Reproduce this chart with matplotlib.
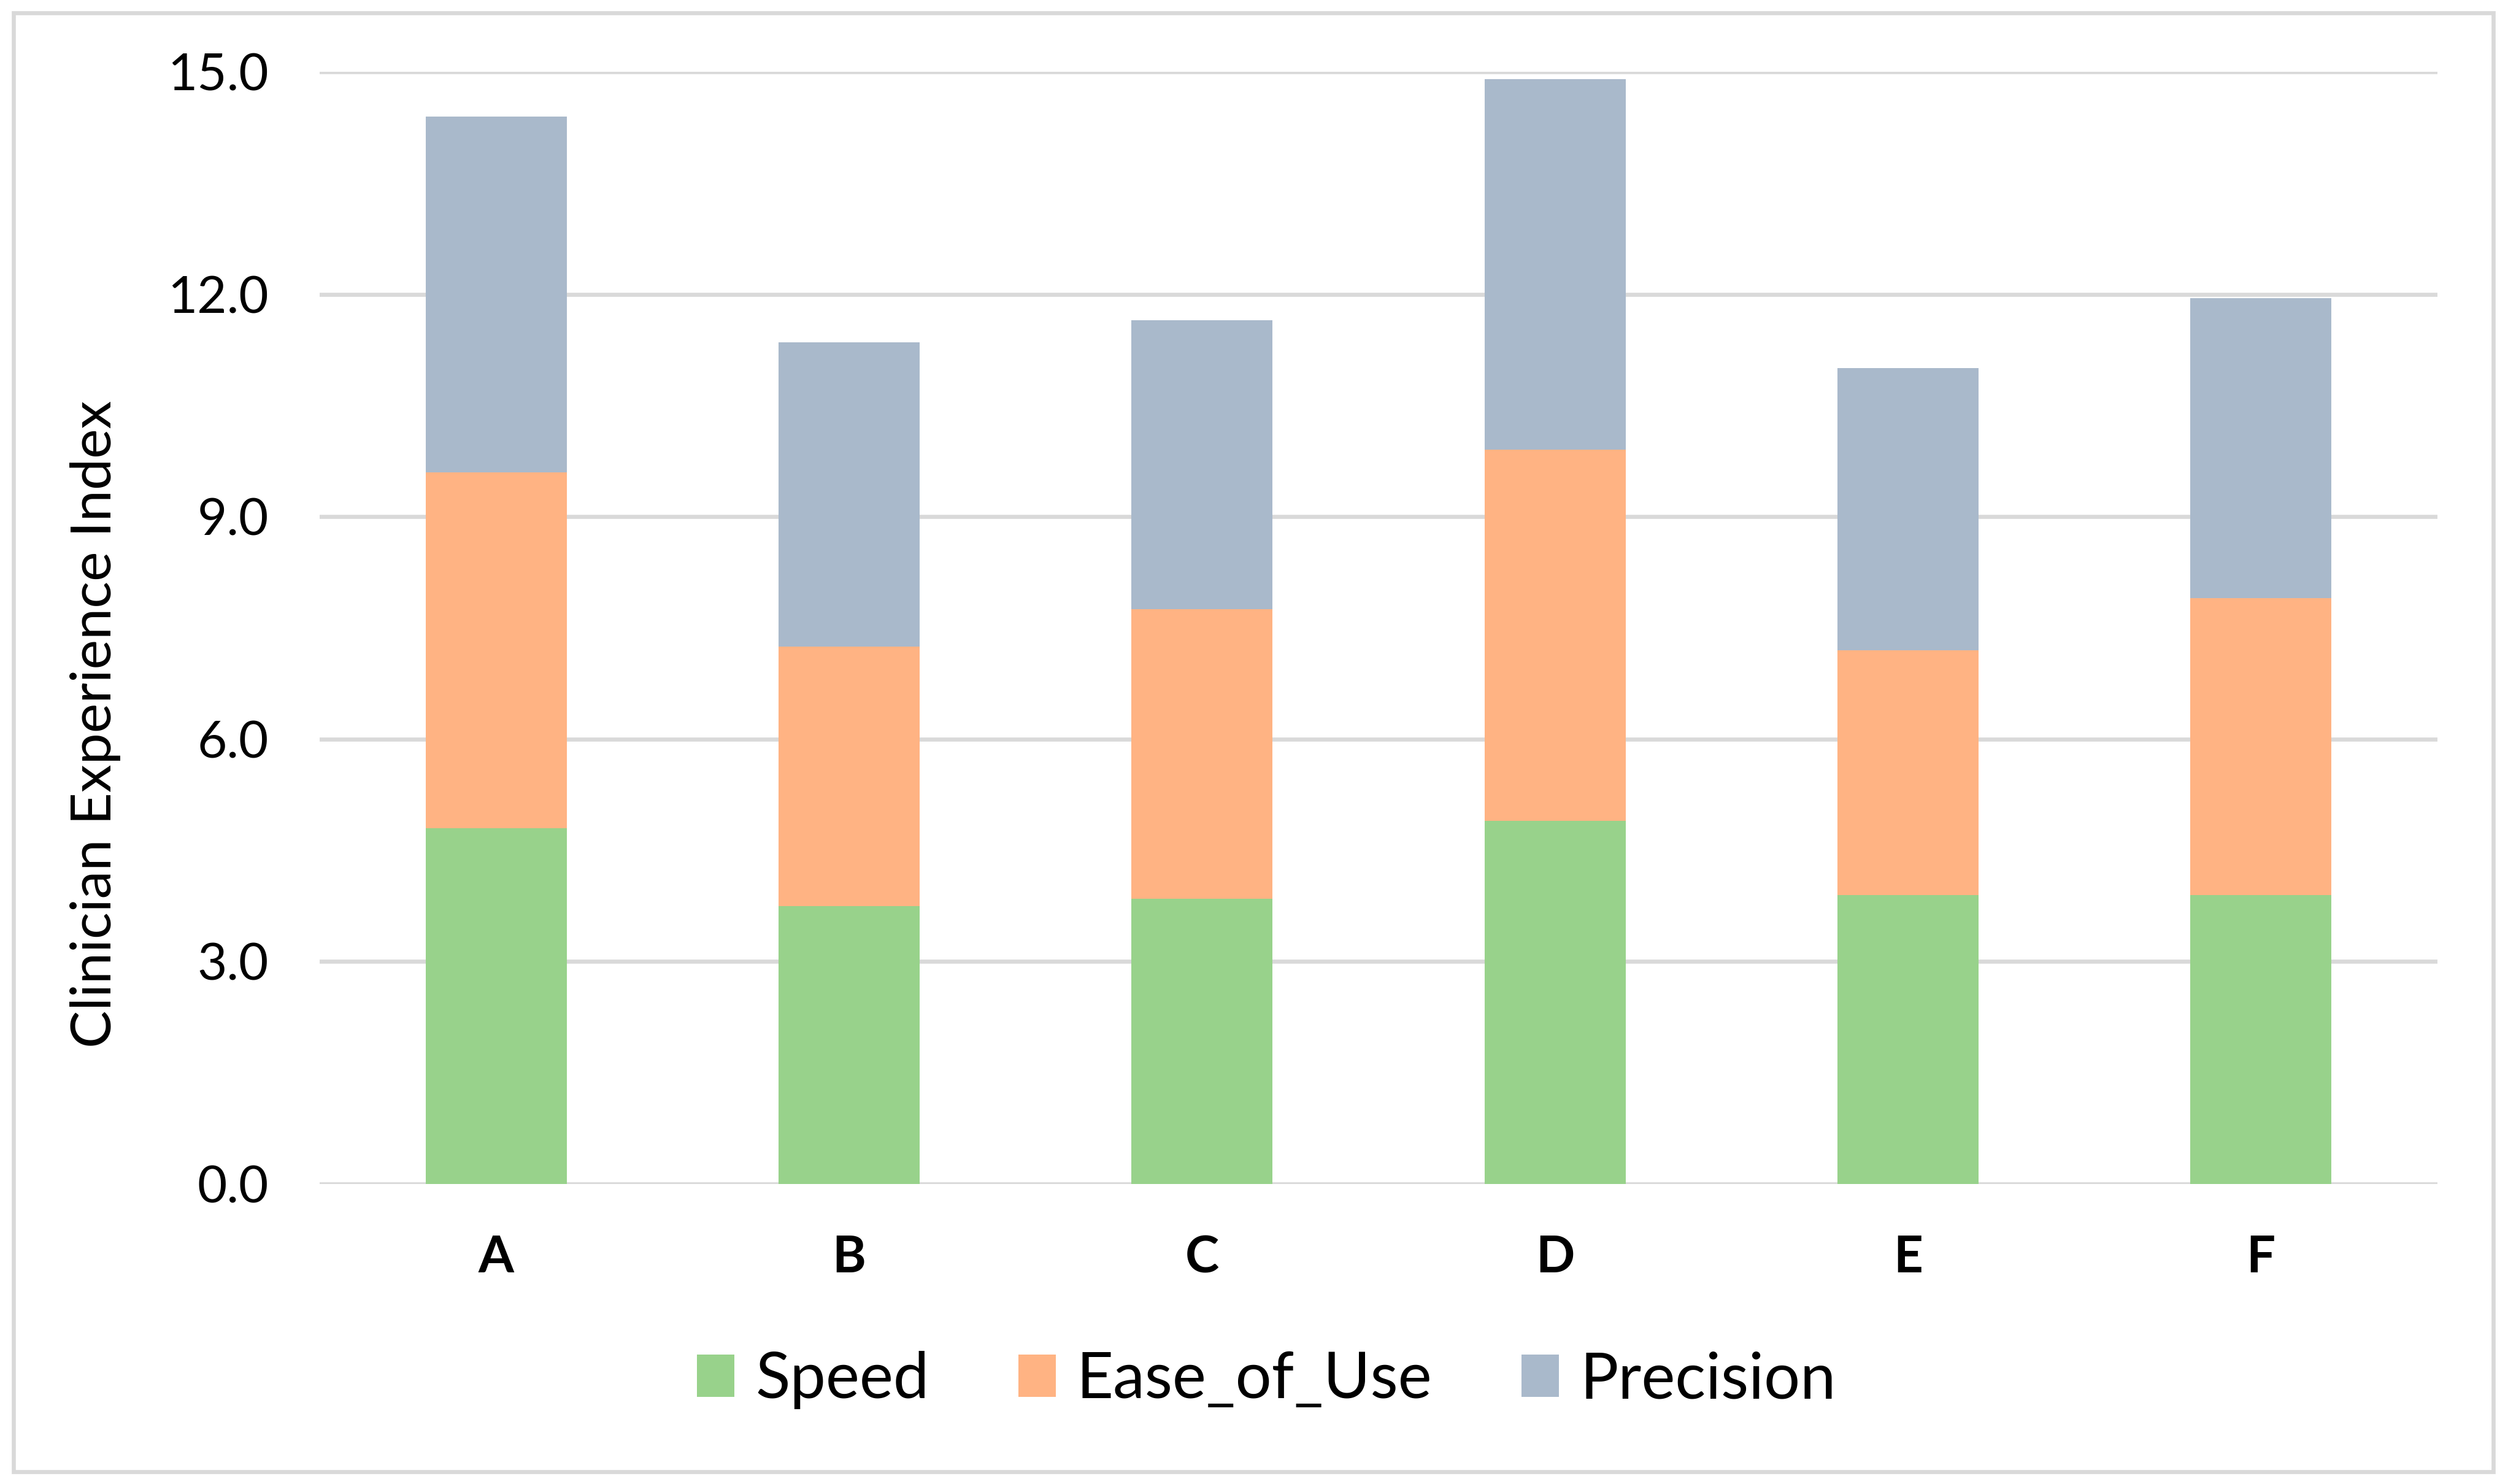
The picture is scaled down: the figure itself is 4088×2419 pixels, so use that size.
import matplotlib
matplotlib.use("Agg")
import matplotlib.pyplot as plt
from matplotlib.patches import Rectangle
import numpy as np

categories = ["A", "B", "C", "D", "E", "F"]
speed = [4.8, 3.75, 3.85, 4.9, 3.9, 3.9]
ease_of_use = [4.8, 3.5, 3.9, 5.0, 3.3, 4.0]
precision = [4.8, 4.1, 3.9, 5.0, 3.8, 4.05]
series_names = ["Speed", "Ease_of_Use", "Precision"]
yticks = [0, 3, 6, 9, 12, 15]

colors = ["#98D28B", "#FFB383", "#A9B9CB"]
grid_color = "#D9D9D9"

plt.rcParams['font.family'] = ['Lato', 'DejaVu Sans']

W, H = 4088, 2419
dpi = 300
fig = plt.figure(figsize=(W / dpi, H / dpi), dpi=dpi)
ax = fig.add_axes([521 / W, 1 - 1930 / H, (3973 - 521) / W, (1930 - 117) / H])

x = np.arange(len(categories))
bottom = np.zeros(len(categories))
for name, vals, c in zip(series_names, [speed, ease_of_use, precision], colors):
    ax.bar(x, vals, width=0.4, bottom=bottom, color=c, label=name, zorder=3, linewidth=0)
    bottom = bottom + np.array(vals)

ax.set_xlim(-0.5, len(categories) - 0.5)
ax.set_ylim(0, 15)
ax.set_yticks(yticks)
ax.set_yticklabels([f"{v:.1f}" for v in yticks], fontsize=20)
ax.set_xticks(x)
ax.set_xticklabels(categories, fontsize=20, fontweight='bold')
ax.tick_params(axis='both', length=0)
ax.tick_params(axis='y', pad=20)
ax.tick_params(axis='x', pad=20)
ax.yaxis.grid(True, color=grid_color, linewidth=1.6, zorder=0)
ax.set_axisbelow(True)
for s in ax.spines.values():
    s.set_visible(False)

fig.text(0.038, 0.512, "Clinician Experience Index", rotation=90, fontsize=22,
         ha='center', va='center')

fig.legend(loc='center', bbox_to_anchor=(0.505, 0.070), ncol=3, frameon=False,
           fontsize=25, handlelength=0.58, handleheight=0.65, handletextpad=0.33,
           columnspacing=1.4)

fig.patches.append(Rectangle((22 / W, 1 - 2399 / H), (4064 - 22) / W, (2399 - 21) / H,
                             transform=fig.transFigure, fill=False,
                             edgecolor=grid_color, linewidth=1.6))

fig.savefig("out.png", dpi=dpi)
